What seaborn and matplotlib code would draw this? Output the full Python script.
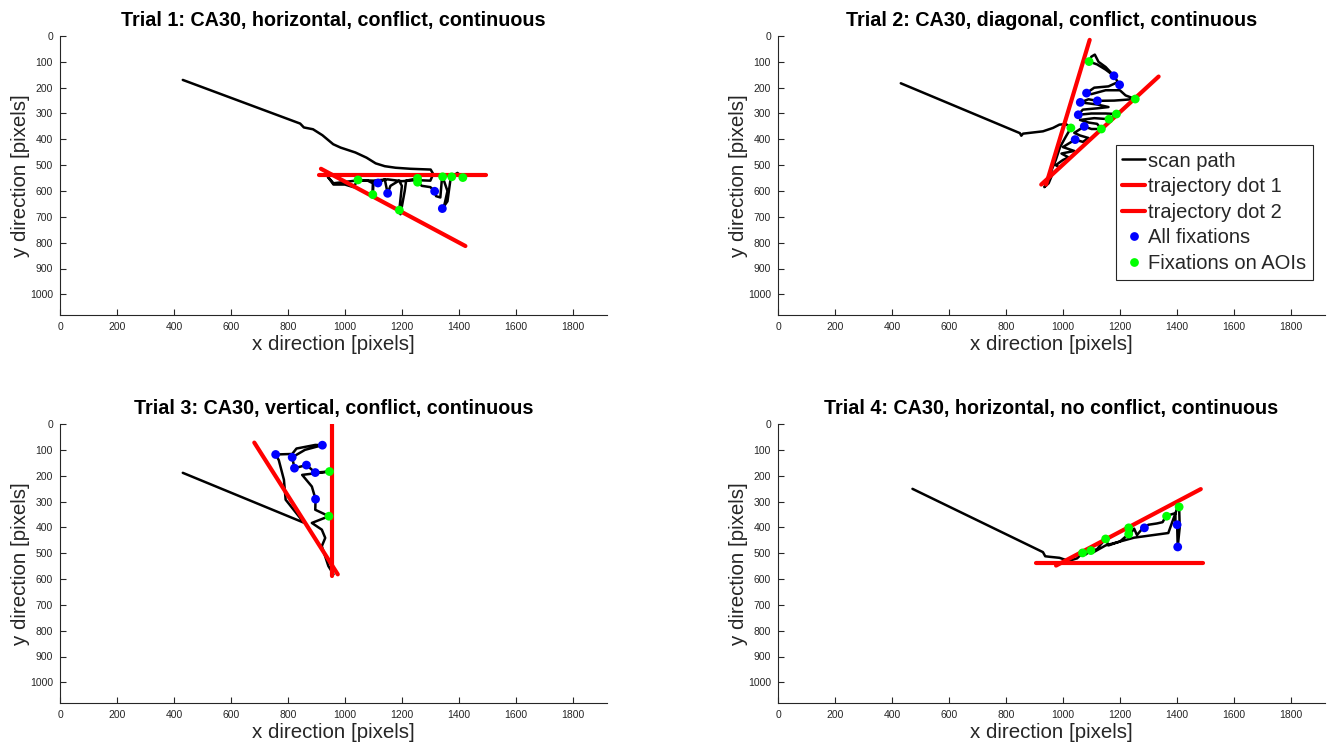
import numpy as np
import pandas as pd
import matplotlib
matplotlib.use("Agg")
import matplotlib.pyplot as plt
import seaborn as sns
from matplotlib.lines import Line2D

# ---------------- data ----------------
titles = [
    "Trial 1: CA30, horizontal, conflict, continuous",
    "Trial 2: CA30, diagonal, conflict, continuous",
    "Trial 3: CA30, vertical, conflict, continuous",
    "Trial 4: CA30, horizontal, no conflict, continuous",
]

# Trial 1
scan1_x = [431, 843, 856, 888, 921, 959, 985, 1037, 1076, 1108, 1140, 1178, 1230, 1301, 1310,
           1300, 1250, 1200, 1150, 1100, 1050, 1000, 960, 940, 960, 1000, 1030, 1046, 1080, 1098,
           1098, 1100, 1116, 1140, 1150, 1160, 1190, 1200, 1191, 1195, 1210, 1215, 1255, 1255,
           1270, 1300, 1315, 1320, 1335, 1340, 1343, 1360, 1350, 1342, 1360, 1370, 1375, 1395, 1414]
scan1_y = [170, 339, 354, 361, 384, 419, 432, 451, 471, 493, 504, 510, 514, 517, 534,
           560, 558, 562, 555, 560, 558, 565, 570, 545, 575, 575, 585, 557, 560, 570,
           614, 565, 569, 555, 609, 580, 560, 580, 674, 690, 600, 560, 551, 566,
           580, 585, 601, 620, 625, 560, 545, 600, 650, 668, 640, 560, 545, 530, 548]
dot1_t1_x = [910, 1494]
dot1_t1_y = [538, 538]
dot2_t1_x = [916, 1423]
dot2_t1_y = [514, 813]
fix_all1_x = [1116, 1150, 1315, 1342]
fix_all1_y = [569, 609, 601, 668]
fix_aoi1_x = [1046, 1098, 1191, 1255, 1255, 1343, 1375, 1414]
fix_aoi1_y = [557, 614, 674, 551, 566, 545, 545, 548]

# Trial 2
scan2_x = [431, 849, 854, 860, 930, 965, 988, 1011, 1028, 1010, 990, 975, 960, 945, 935,
           950, 965, 990, 975, 1000, 1020, 995, 1040, 1000, 1043, 1070, 1090, 1060, 1040,
           1075, 1100, 1135, 1120, 1090, 1060, 1110, 1162, 1188, 1150, 1100, 1054, 1070,
           1120, 1160, 1120, 1061, 1090, 1121, 1180, 1254, 1220, 1200, 1150, 1100, 1083,
           1110, 1160, 1190, 1199, 1179, 1150, 1120, 1092, 1100, 1112, 1125, 1150, 1179]
scan2_y = [183, 376, 386, 378, 369, 356, 343, 341, 356, 390, 430, 480, 520, 560, 585,
           570, 530, 510, 500, 480, 470, 455, 445, 430, 401, 410, 395, 385, 375,
           350, 360, 360, 340, 335, 325, 318, 322, 302, 300, 300, 305, 285,
           280, 275, 265, 257, 245, 251, 250, 244, 230, 210, 210, 225, 221,
           200, 195, 180, 189, 154, 130, 110, 99, 80, 72, 100, 120, 154]
dot1_t2_x = [1094, 941]
dot1_t2_y = [15, 575]
dot2_t2_x = [924, 1336]
dot2_t2_y = [575, 157]
fix_all2_x = [1179, 1199, 1083, 1121, 1061, 1054, 1075, 1043]
fix_all2_y = [154, 189, 221, 251, 257, 305, 350, 401]
fix_aoi2_x = [1092, 1254, 1188, 1162, 1135, 1028]
fix_aoi2_y = [99, 244, 302, 322, 360, 356]

# Trial 3
scan3_x = [431, 856, 792, 786, 768, 757, 815, 830, 896, 921, 860, 815, 823, 865, 896, 946,
           850, 884, 897, 896, 944, 884, 919, 931, 919, 942, 960]
scan3_y = [189, 382, 293, 216, 140, 118, 116, 95, 81, 82, 100, 129, 171, 159, 188, 184,
           197, 242, 291, 332, 357, 383, 409, 441, 473, 550, 582]
dot1_t3_x = [955, 955]
dot1_t3_y = [0, 590]
dot2_t3_x = [682, 975]
dot2_t3_y = [72, 582]
fix_all3_x = [757, 921, 815, 823, 865, 896, 897]
fix_all3_y = [118, 82, 129, 171, 159, 188, 291]
fix_aoi3_x = [946, 944]
fix_aoi3_y = [184, 357]

# Trial 4
scan4_x = [472, 930, 938, 953, 988, 1020, 1050, 1069, 1080, 1098, 1120, 1130, 1150, 1160,
           1200, 1231, 1231, 1240, 1250, 1260, 1275, 1286, 1300, 1330, 1350, 1355, 1364,
           1380, 1395, 1395, 1401, 1403, 1410, 1408, 1400, 1370, 1250, 1150, 1103]
scan4_y = [251, 496, 512, 514, 518, 530, 520, 499, 505, 490, 485, 470, 445, 470,
           455, 426, 402, 420, 405, 430, 410, 402, 390, 385, 380, 370, 357,
           350, 345, 380, 390, 476, 400, 321, 330, 422, 440, 470, 499]
dot1_t4_x = [907, 1492]
dot1_t4_y = [537, 537]
dot2_t4_x = [976, 1484]
dot2_t4_y = [548, 252]
fix_all4_x = [1286, 1401, 1403]
fix_all4_y = [402, 390, 476]
fix_aoi4_x = [1069, 1098, 1150, 1231, 1231, 1364, 1408]
fix_aoi4_y = [499, 490, 445, 402, 426, 357, 321]

x_ticks = list(range(0, 1801, 200))
y_ticks = list(range(0, 1001, 100))

trials = [
    (scan1_x, scan1_y, dot1_t1_x, dot1_t1_y, dot2_t1_x, dot2_t1_y, fix_all1_x, fix_all1_y, fix_aoi1_x, fix_aoi1_y),
    (scan2_x, scan2_y, dot1_t2_x, dot1_t2_y, dot2_t2_x, dot2_t2_y, fix_all2_x, fix_all2_y, fix_aoi2_x, fix_aoi2_y),
    (scan3_x, scan3_y, dot1_t3_x, dot1_t3_y, dot2_t3_x, dot2_t3_y, fix_all3_x, fix_all3_y, fix_aoi3_x, fix_aoi3_y),
    (scan4_x, scan4_y, dot1_t4_x, dot1_t4_y, dot2_t4_x, dot2_t4_y, fix_all4_x, fix_all4_y, fix_aoi4_x, fix_aoi4_y),
]

# ---------------- style ----------------
sns.set_theme(style="ticks")
plt.rcParams["font.family"] = ["Liberation Sans", "DejaVu Sans"]
plt.rcParams["xtick.direction"] = "in"
plt.rcParams["ytick.direction"] = "in"

W, H = 1330, 749
fig = plt.figure(figsize=(W / 100, H / 100), dpi=100)

cols = [60, 778]
rows = [(36, 315), (424, 703)]
axw = 547

grey = "#262626"
blue = "#0000FF"
green = "#00FF00"
red = "#FF0000"

for i, (sx, sy, d1x, d1y, d2x, d2y, fax, fay, fgx, fgy) in enumerate(trials):
    r, c = divmod(i, 2)
    top, bot = rows[r]
    ax = fig.add_axes([cols[c] / W, 1 - bot / H, axw / W, (bot - top) / H])

    sns.lineplot(x=sx, y=sy, sort=False, estimator=None, color="black", lw=1.8, ax=ax,
                 label="scan path")
    sns.lineplot(x=d1x, y=d1y, sort=False, estimator=None, color=red, lw=3.0, ax=ax,
                 label="trajectory dot 1")
    sns.lineplot(x=d2x, y=d2y, sort=False, estimator=None, color=red, lw=3.0, ax=ax,
                 label="trajectory dot 2")
    sns.scatterplot(x=fax, y=fay, color=blue, s=40, edgecolor="none", ax=ax, zorder=5,
                    label="All fixations")
    sns.scatterplot(x=fgx, y=fgy, color=green, s=40, edgecolor="none", ax=ax, zorder=6,
                    label="Fixations on AOIs")

    ax.set_xlim(0, 1920)
    ax.set_ylim(1080, 0)
    ax.set_xticks(x_ticks)
    ax.set_yticks(y_ticks)
    ax.set_xticklabels([str(v) for v in x_ticks])
    ax.set_yticklabels([str(v) for v in y_ticks])
    ax.tick_params(axis="both", labelsize=7.5, colors=grey, length=4, width=0.8, pad=5)
    for side in ["top", "right"]:
        ax.spines[side].set_visible(False)
    for side in ["left", "bottom"]:
        ax.spines[side].set_color(grey)
        ax.spines[side].set_linewidth(0.8)
    ax.set_xlabel("x direction [pixels]", fontsize=14.8, color=grey, labelpad=2)
    ax.set_ylabel("y direction [pixels]", fontsize=14.8, color=grey, labelpad=0)
    ax.set_title(titles[i], fontsize=14.2, fontweight="bold", color="black", pad=7)

    if i == 1:
        handles = [
            Line2D([], [], color="black", lw=1.8),
            Line2D([], [], color=red, lw=3.0),
            Line2D([], [], color=red, lw=3.0),
            Line2D([], [], color=blue, marker="o", ls="none", ms=6.3, mec="none"),
            Line2D([], [], color=green, marker="o", ls="none", ms=6.3, mec="none"),
        ]
        labels = ["scan path", "trajectory dot 1", "trajectory dot 2",
                  "All fixations", "Fixations on AOIs"]
        leg = ax.legend(handles, labels, loc="upper right", bbox_to_anchor=(0.978, 0.609),
                        fontsize=14.5, frameon=True, fancybox=False, edgecolor=grey,
                        framealpha=1, handlelength=1.15, handletextpad=0.15,
                        borderpad=0.32, labelspacing=0.33, borderaxespad=0)
        leg.get_frame().set_linewidth(0.8)
    else:
        lg = ax.get_legend()
        if lg is not None:
            lg.remove()

fig.savefig("out.png", dpi=100)
